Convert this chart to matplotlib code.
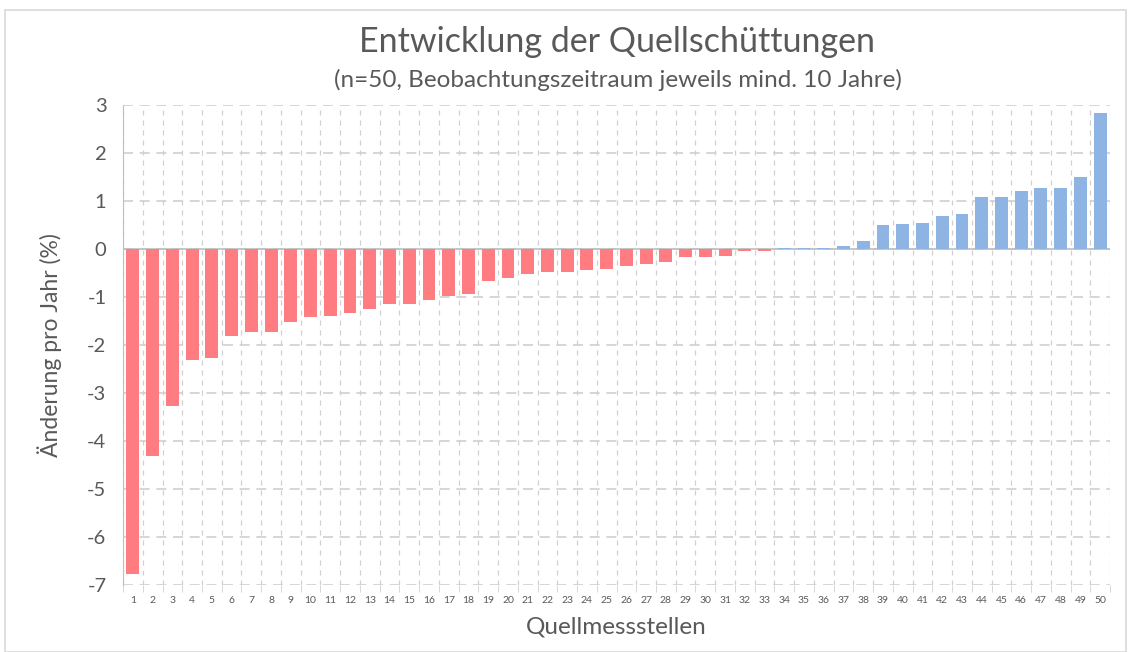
import matplotlib
matplotlib.use('Agg')
import matplotlib.pyplot as plt
import numpy as np
from matplotlib.patches import Rectangle

plt.rcParams['font.family'] = ['Lato', 'DejaVu Sans']

# Werte je Quellmessstelle (Änderung pro Jahr in %)
stellen = list(range(1, 51))
aenderung = [
    -6.77, -4.31, -3.27, -2.32, -2.27, -1.81, -1.74, -1.74, -1.53, -1.42,
    -1.39, -1.34, -1.26, -1.15, -1.15, -1.07, -0.97, -0.93, -0.67, -0.60,
    -0.53, -0.47, -0.48, -0.44, -0.42, -0.36, -0.31, -0.28, -0.17, -0.17,
    -0.15, -0.04, -0.04, 0.01, 0.03, 0.03, 0.06, 0.17, 0.49, 0.52,
    0.55, 0.69, 0.72, 1.09, 1.09, 1.20, 1.26, 1.28, 1.50, 2.83,
]
y_ticks = list(range(-7, 4))

ROT = '#ff7c80'
BLAU = '#8eb4e3'
GRAU = '#595959'
GITTER = '#d0d0d0'

farben = [ROT if v < 0 else BLAU for v in aenderung]

fig = plt.figure(figsize=(11.33, 6.52), dpi=100)
ax = fig.add_axes([0.1086, 0.1028, 0.8711, 0.7362])

ax.bar(stellen, aenderung, width=0.65, color=farben, zorder=3)

ax.set_xlim(0.5, 50.5)
ax.set_ylim(-7, 3)
ax.set_yticks(y_ticks)
ax.set_yticklabels([str(t) for t in y_ticks], fontsize=14.5, color=GRAU)
ax.set_xticks(stellen)
ax.set_xticklabels([str(s) for s in stellen], fontsize=7.5, color=GRAU)
ax.set_xticks(np.arange(0.5, 51, 1), minor=True)
ax.tick_params(axis='x', which='major', length=0, pad=8)
ax.tick_params(axis='x', which='minor', length=5, color=GITTER)
ax.tick_params(axis='y', length=0, pad=12)

# Gitter gestrichelt
ax.grid(axis='y', which='major', linestyle=(0, (6, 4)), color=GITTER, lw=1.2, zorder=0)
ax.grid(axis='x', which='minor', linestyle=(0, (4, 4)), color=GITTER, lw=0.9, zorder=0)
ax.grid(axis='x', which='major', visible=False)

for s in ['top', 'right', 'bottom']:
    ax.spines[s].set_visible(False)
ax.spines['left'].set_color('#bfbfbf')
ax.axhline(0, color='#bfbfbf', lw=1.2, zorder=2)

ax.set_ylabel('Änderung pro Jahr (%)', fontsize=16.5, color=GRAU)
ax.yaxis.set_label_coords(-0.062, 0.5)
ax.set_xlabel('Quellmessstellen', fontsize=17.5, color=GRAU, labelpad=8)

fig.text(0.545, 0.935, 'Entwicklung der Quellschüttungen', ha='center', va='center',
         fontsize=24.5, color=GRAU)
fig.text(0.545, 0.877, '(n=50, Beobachtungszeitraum jeweils mind. 10 Jahre)',
         ha='center', va='center', fontsize=17.5, color=GRAU)

# Rahmen um das Diagramm
fig.patches.append(Rectangle((0.004, 0.0), 0.99, 0.985, transform=fig.transFigure,
                             fill=False, edgecolor='#d9d9d9', lw=1.2))

fig.savefig('out.png', dpi=100)
